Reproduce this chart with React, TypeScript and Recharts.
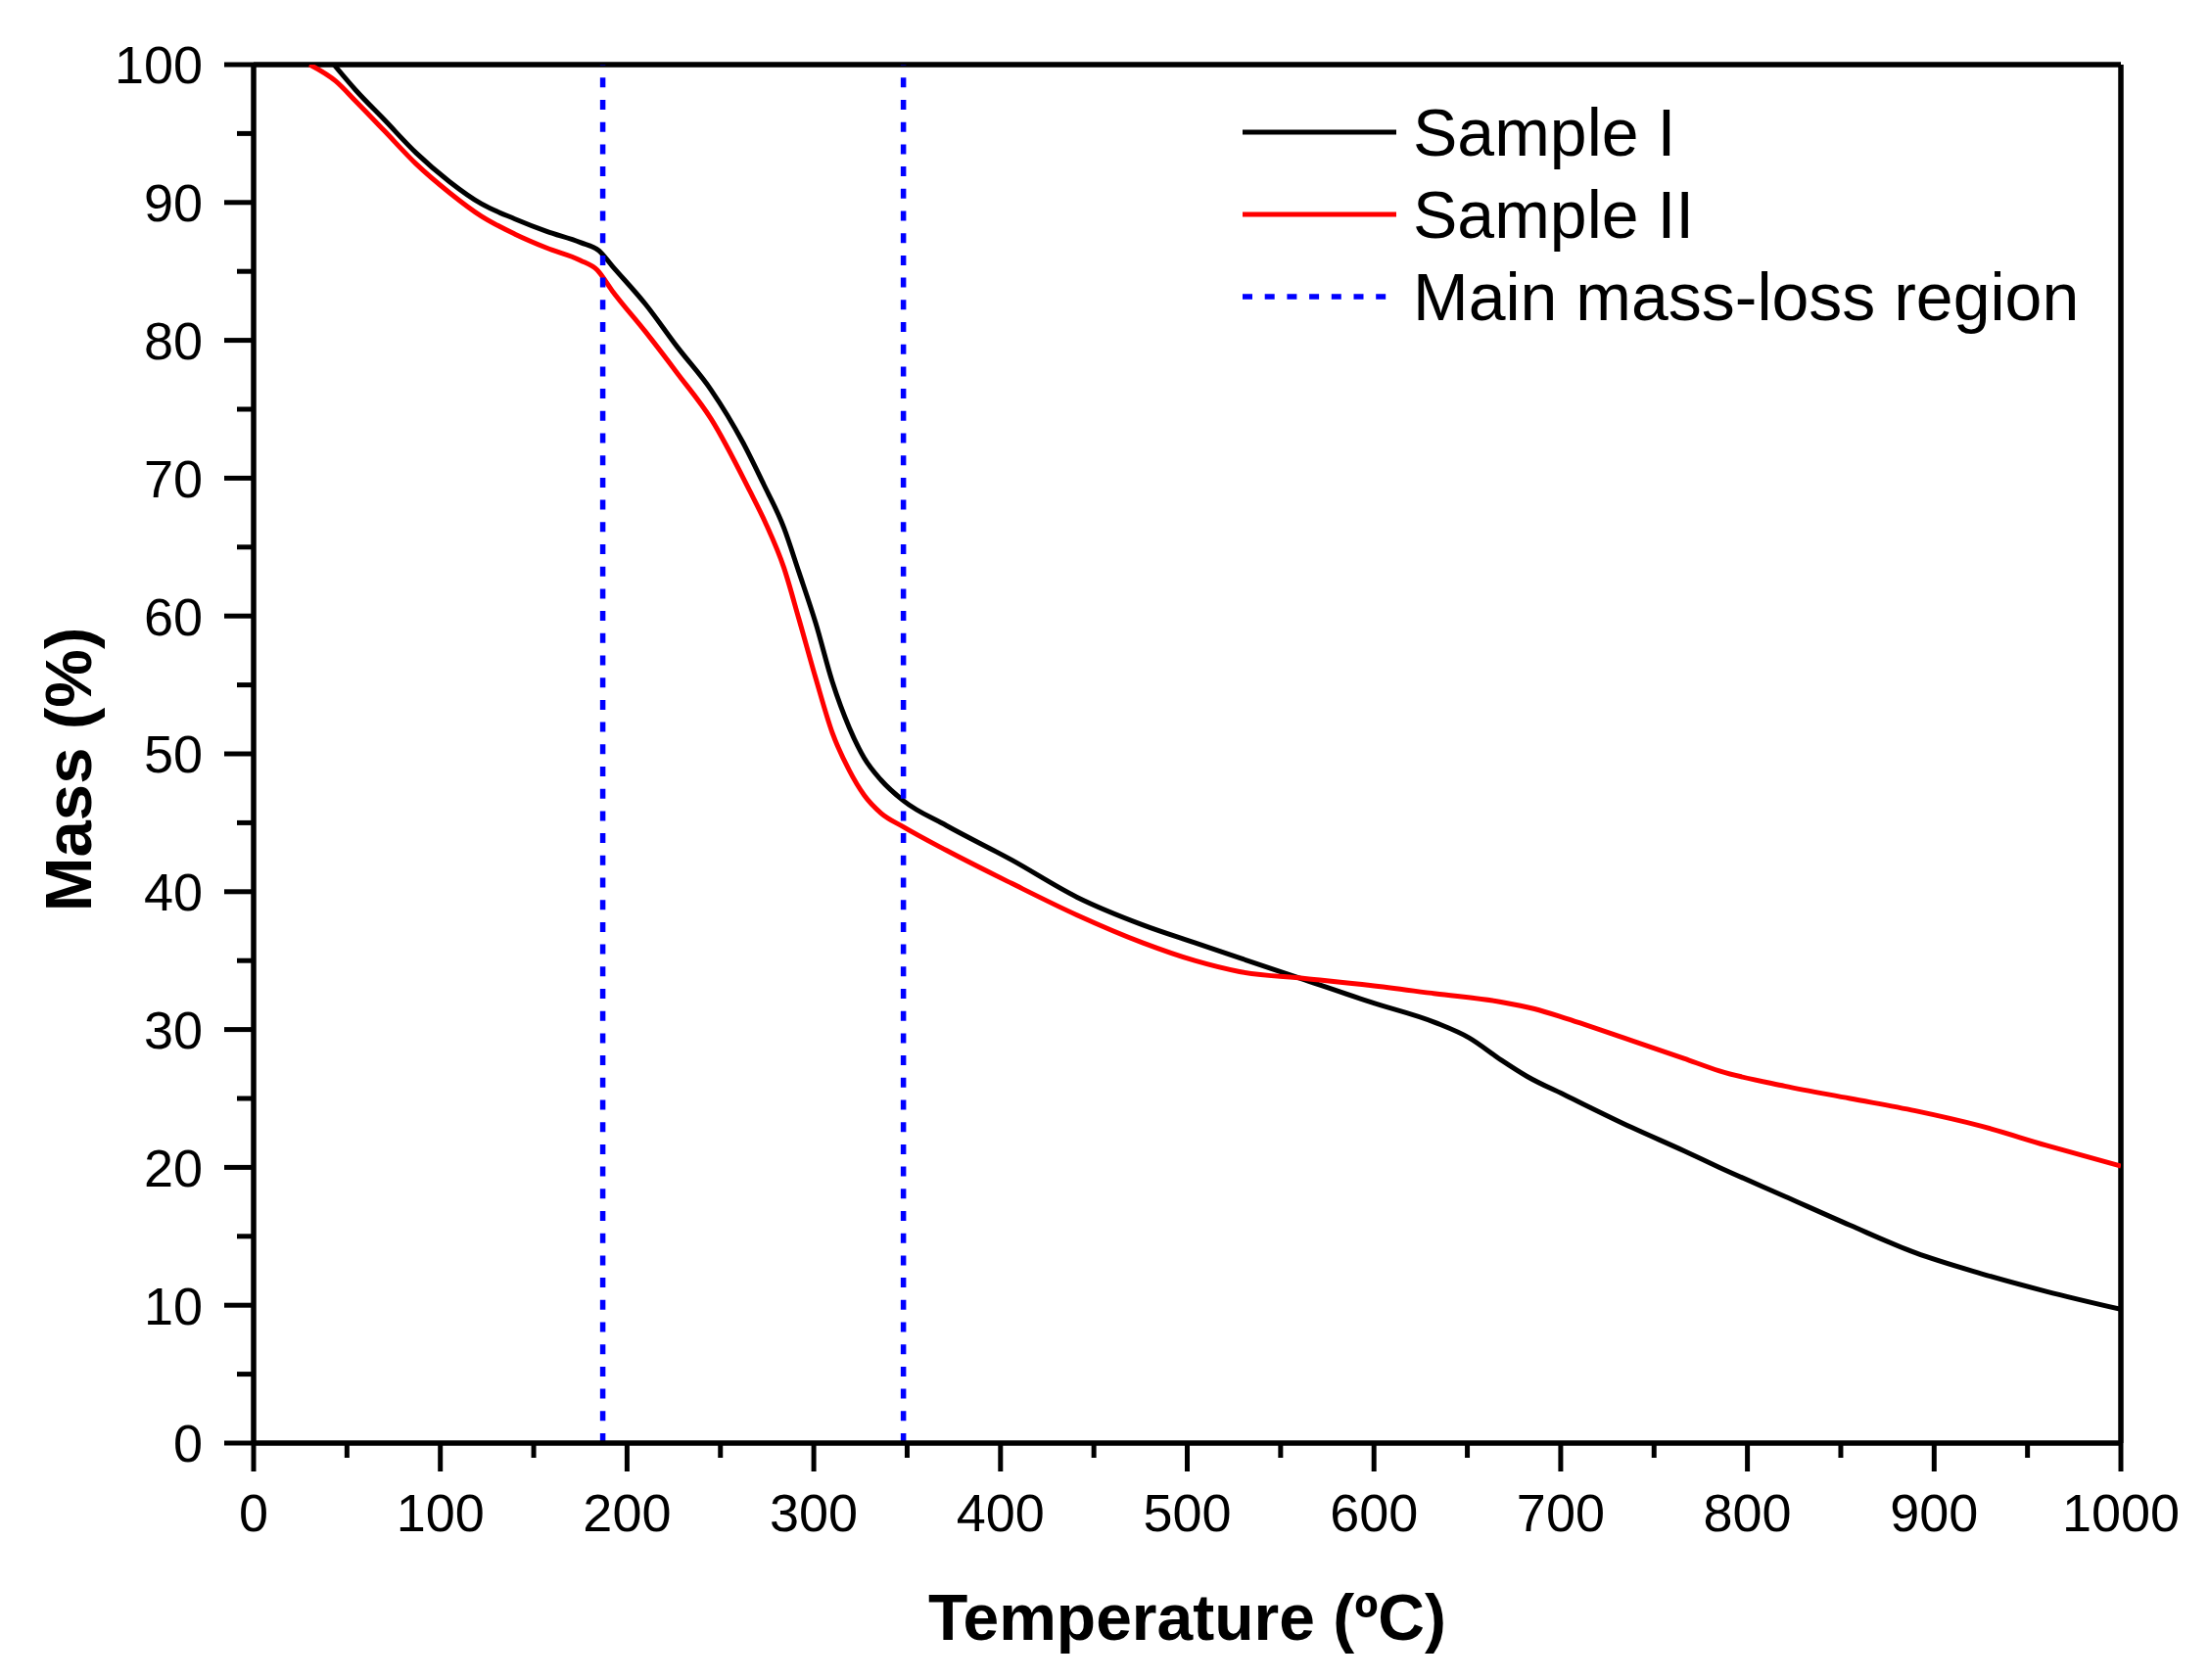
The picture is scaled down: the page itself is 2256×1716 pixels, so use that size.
import React from "react";
import { LineChart, Line, XAxis, YAxis, ReferenceLine, Legend } from "recharts";

// Sample I (black) – temperature (ºC) and mass (%)
const sampleITemp = [43, 55, 70, 87, 105, 122, 140, 157, 175, 185, 192, 210, 227, 245, 262, 273, 284, 292, 301, 310, 319, 327, 336, 348, 371, 406, 441, 476, 504, 528, 563, 598, 633, 651, 668, 682, 703, 738, 766, 785, 820, 855, 890, 925, 960, 1000];
const sampleIMass = [100, 98.1, 96.0, 93.6, 91.5, 89.9, 88.8, 87.9, 87.1, 86.5, 85.4, 82.6, 79.5, 76.4, 72.6, 69.6, 66.4, 63.2, 59.5, 55.2, 51.9, 49.7, 48.1, 46.6, 44.8, 42.3, 39.6, 37.6, 36.3, 35.2, 33.6, 32.0, 30.5, 29.4, 27.8, 26.6, 25.2, 22.9, 21.2, 20.0, 17.9, 15.8, 13.8, 12.3, 11.0, 9.7];

// Sample II (red)
const sampleIITemp = [30, 44, 55, 70, 87, 105, 122, 140, 157, 175, 184, 192, 210, 227, 245, 266, 274, 284, 292, 301, 310, 319, 327, 336, 348, 371, 406, 441, 476, 504, 528, 563, 598, 633, 668, 686, 703, 738, 766, 785, 820, 855, 890, 925, 960, 1000];
const sampleIIMass = [100, 98.8, 97.3, 95.2, 92.8, 90.7, 89.0, 87.7, 86.7, 85.8, 85.1, 83.6, 80.6, 77.6, 74.3, 69.0, 66.8, 63.5, 59.8, 55.5, 51.5, 48.8, 47.0, 45.7, 44.7, 43.0, 40.6, 38.3, 36.3, 35.0, 34.2, 33.7, 33.2, 32.6, 32.0, 31.5, 30.8, 29.2, 27.9, 27.0, 25.9, 25.0, 24.1, 23.0, 21.6, 20.1];

// boundaries of the main mass-loss region (ºC)
const regionBounds = [187, 348];

const xTicks = [0, 50, 100, 150, 200, 250, 300, 350, 400, 450, 500, 550, 600, 650, 700, 750, 800, 850, 900, 950, 1000];
const yTicks = [0, 5, 10, 15, 20, 25, 30, 35, 40, 45, 50, 55, 60, 65, 70, 75, 80, 85, 90, 95, 100];

const seriesNames = ["Sample I", "Sample II", "Main mass-loss region"];

const FONT = "'Liberation Sans', Arial, sans-serif";
const BLUE = "#0000ff";
const DOTS = "10 12.7";

const sampleI = sampleITemp.map((t, i) => ({ t, m: sampleIMass[i] }));
const sampleII = sampleIITemp.map((t, i) => ({ t, m: sampleIIMass[i] }));

function XTick(props: any) {
  const { x, y, payload } = props;
  const major = payload.value % 100 === 0;
  return (
    <g>
      <line x1={x} x2={x} y1={y} y2={y + (major ? 29 : 15)} stroke="#000" strokeWidth={5} />
      {major && (
        <text x={x} y={y + 90} textAnchor="middle" fontSize={54} fontFamily={FONT} fill="#000">
          {payload.value}
        </text>
      )}
    </g>
  );
}

function YTick(props: any) {
  const { x, y, payload } = props;
  const major = payload.value % 10 === 0;
  return (
    <g>
      <line x1={x} x2={x - (major ? 30 : 17)} y1={y} y2={y} stroke="#000" strokeWidth={5} />
      {major && (
        <text x={x - 52} y={y} dy="0.36em" textAnchor="end" fontSize={54} fontFamily={FONT} fill="#000">
          {payload.value}
        </text>
      )}
    </g>
  );
}

function LegendBox() {
  const styles = [
    { stroke: "#000", dash: undefined, len: 157 },
    { stroke: "#ff0000", dash: undefined, len: 157 },
    { stroke: BLUE, dash: DOTS, len: 150 },
  ];
  return (
    <div style={{ fontFamily: FONT, fontSize: 68, color: "#000" }}>
      {seriesNames.map((name, i) => (
        <div key={name} style={{ display: "flex", alignItems: "center", height: 84, whiteSpace: "nowrap" }}>
          <svg width={157} height={84} style={{ display: "block" }}>
            <line
              x1={0}
              x2={styles[i].len}
              y1={42}
              y2={42}
              stroke={styles[i].stroke}
              strokeWidth={i === 2 ? 5.5 : 5}
              strokeDasharray={styles[i].dash}
            />
          </svg>
          <span style={{ marginLeft: 17, lineHeight: "84px" }}>{name}</span>
        </div>
      ))}
    </div>
  );
}

export default function App() {
  return (
    <div style={{ width: 2240, height: 1700, background: "#fff" }}>
      <LineChart width={2240} height={1700} margin={{ top: 58, right: 82, bottom: 0, left: 0 }}>
        <XAxis
          type="number"
          dataKey="t"
          domain={[0, 1000]}
          ticks={xTicks}
          interval={0}
          tickSize={0}
          tickMargin={0}
          tickLine={false}
          tick={<XTick />}
          height={234}
          axisLine={{ stroke: "#000", strokeWidth: 5.5 }}
          allowDataOverflow
          label={{
            content: (p: any) => {
              const vb = p.viewBox;
              return (
                <text
                  x={vb.x + vb.width / 2}
                  y={vb.y + 201}
                  textAnchor="middle"
                  fontSize={66}
                  fontWeight="bold"
                  fontFamily={FONT}
                  fill="#000"
                >
                  Temperature (ºC)
                </text>
              );
            },
          }}
        />
        <YAxis
          type="number"
          dataKey="m"
          domain={[0, 100]}
          ticks={yTicks}
          interval={0}
          tickSize={0}
          tickMargin={0}
          tickLine={false}
          tick={<YTick />}
          width={251}
          axisLine={{ stroke: "#000", strokeWidth: 5.5 }}
          allowDataOverflow
          label={{
            content: (p: any) => {
              const vb = p.viewBox;
              const cx = vb.x + 85;
              const cy = vb.y + vb.height / 2 + 16;
              return (
                <text
                  x={cx}
                  y={cy}
                  transform={`rotate(-90 ${cx} ${cy})`}
                  textAnchor="middle"
                  fontSize={67}
                  fontWeight="bold"
                  fontFamily={FONT}
                  fill="#000"
                >
                  Mass (%)
                </text>
              );
            },
          }}
        />
        <ReferenceLine y={100} stroke="#000" strokeWidth={5.5} />
        <ReferenceLine x={1000} stroke="#000" strokeWidth={5.5} />
        <Line
          data={sampleI}
          dataKey="m"
          name={seriesNames[0]}
          type="monotone"
          stroke="#000"
          strokeWidth={5}
          dot={false}
          activeDot={false}
          isAnimationActive={false}
        />
        <Line
          data={sampleII}
          dataKey="m"
          name={seriesNames[1]}
          type="monotone"
          stroke="#ff0000"
          strokeWidth={5}
          dot={false}
          activeDot={false}
          isAnimationActive={false}
        />
        {regionBounds.map((b) => (
          <ReferenceLine key={b} x={b} stroke={BLUE} strokeWidth={5.5} strokeDasharray={DOTS} />
        ))}
        <Legend
          layout="vertical"
          align="center"
          verticalAlign="middle"
          wrapperStyle={{ position: "absolute", left: 1261, top: 85, width: "auto", height: "auto" }}
          content={() => <LegendBox />}
        />
      </LineChart>
    </div>
  );
}
